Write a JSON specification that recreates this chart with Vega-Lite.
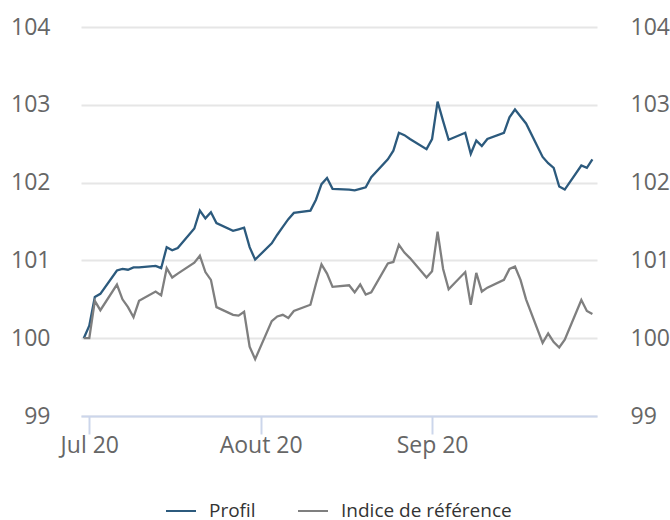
{
  "$schema": "https://vega.github.io/schema/vega-lite/v6.json",
  "autosize": {"type": "none"},
  "padding": {"left": 81, "top": 27, "right": 73, "bottom": 104},
  "width": 516,
  "height": 389,
  "background": "white",
  "config": {
    "view": {"stroke": null},
    "font": "Open Sans"
  },
  "data": {
    "values": [
      {"d": "2020-06-30", "Profil": 100.0, "Indice de référence": 100.0},
      {"d": "2020-07-01", "Profil": 100.16, "Indice de référence": 100.0},
      {"d": "2020-07-02", "Profil": 100.53, "Indice de référence": 100.48},
      {"d": "2020-07-03", "Profil": 100.57, "Indice de référence": 100.36},
      {"d": "2020-07-06", "Profil": 100.87, "Indice de référence": 100.69},
      {"d": "2020-07-07", "Profil": 100.89, "Indice de référence": 100.5},
      {"d": "2020-07-08", "Profil": 100.88, "Indice de référence": 100.4},
      {"d": "2020-07-09", "Profil": 100.91, "Indice de référence": 100.27},
      {"d": "2020-07-10", "Profil": 100.91, "Indice de référence": 100.48},
      {"d": "2020-07-13", "Profil": 100.93, "Indice de référence": 100.6},
      {"d": "2020-07-14", "Profil": 100.9, "Indice de référence": 100.55},
      {"d": "2020-07-15", "Profil": 101.17, "Indice de référence": 100.9},
      {"d": "2020-07-16", "Profil": 101.13, "Indice de référence": 100.78},
      {"d": "2020-07-17", "Profil": 101.16, "Indice de référence": 100.83},
      {"d": "2020-07-20", "Profil": 101.41, "Indice de référence": 100.97},
      {"d": "2020-07-21", "Profil": 101.64, "Indice de référence": 101.06},
      {"d": "2020-07-22", "Profil": 101.54, "Indice de référence": 100.85},
      {"d": "2020-07-23", "Profil": 101.62, "Indice de référence": 100.75},
      {"d": "2020-07-24", "Profil": 101.48, "Indice de référence": 100.4},
      {"d": "2020-07-27", "Profil": 101.38, "Indice de référence": 100.3},
      {"d": "2020-07-28", "Profil": 101.4, "Indice de référence": 100.29},
      {"d": "2020-07-29", "Profil": 101.42, "Indice de référence": 100.34},
      {"d": "2020-07-30", "Profil": 101.17, "Indice de référence": 99.89},
      {"d": "2020-07-31", "Profil": 101.01, "Indice de référence": 99.73},
      {"d": "2020-08-03", "Profil": 101.22, "Indice de référence": 100.22},
      {"d": "2020-08-04", "Profil": 101.33, "Indice de référence": 100.28},
      {"d": "2020-08-05", "Profil": 101.43, "Indice de référence": 100.3},
      {"d": "2020-08-06", "Profil": 101.53, "Indice de référence": 100.26},
      {"d": "2020-08-07", "Profil": 101.61, "Indice de référence": 100.35},
      {"d": "2020-08-10", "Profil": 101.64, "Indice de référence": 100.43},
      {"d": "2020-08-11", "Profil": 101.78, "Indice de référence": 100.7},
      {"d": "2020-08-12", "Profil": 101.98, "Indice de référence": 100.95},
      {"d": "2020-08-13", "Profil": 102.06, "Indice de référence": 100.83},
      {"d": "2020-08-14", "Profil": 101.92, "Indice de référence": 100.66},
      {"d": "2020-08-17", "Profil": 101.91, "Indice de référence": 100.68},
      {"d": "2020-08-18", "Profil": 101.9, "Indice de référence": 100.59},
      {"d": "2020-08-19", "Profil": 101.92, "Indice de référence": 100.69},
      {"d": "2020-08-20", "Profil": 101.94, "Indice de référence": 100.56},
      {"d": "2020-08-21", "Profil": 102.07, "Indice de référence": 100.59},
      {"d": "2020-08-24", "Profil": 102.3, "Indice de référence": 100.96},
      {"d": "2020-08-25", "Profil": 102.41, "Indice de référence": 100.98},
      {"d": "2020-08-26", "Profil": 102.64, "Indice de référence": 101.2},
      {"d": "2020-08-27", "Profil": 102.61, "Indice de référence": 101.1},
      {"d": "2020-08-28", "Profil": 102.56, "Indice de référence": 101.03},
      {"d": "2020-08-31", "Profil": 102.43, "Indice de référence": 100.78},
      {"d": "2020-09-01", "Profil": 102.56, "Indice de référence": 100.86},
      {"d": "2020-09-02", "Profil": 103.04, "Indice de référence": 101.37},
      {"d": "2020-09-03", "Profil": 102.79, "Indice de référence": 100.89},
      {"d": "2020-09-04", "Profil": 102.55, "Indice de référence": 100.63},
      {"d": "2020-09-07", "Profil": 102.64, "Indice de référence": 100.85},
      {"d": "2020-09-08", "Profil": 102.37, "Indice de référence": 100.43},
      {"d": "2020-09-09", "Profil": 102.54, "Indice de référence": 100.84},
      {"d": "2020-09-10", "Profil": 102.47, "Indice de référence": 100.6},
      {"d": "2020-09-11", "Profil": 102.56, "Indice de référence": 100.65},
      {"d": "2020-09-14", "Profil": 102.64, "Indice de référence": 100.75},
      {"d": "2020-09-15", "Profil": 102.84, "Indice de référence": 100.89},
      {"d": "2020-09-16", "Profil": 102.94, "Indice de référence": 100.92},
      {"d": "2020-09-17", "Profil": 102.85, "Indice de référence": 100.75},
      {"d": "2020-09-18", "Profil": 102.76, "Indice de référence": 100.5},
      {"d": "2020-09-21", "Profil": 102.33, "Indice de référence": 99.94},
      {"d": "2020-09-22", "Profil": 102.25, "Indice de référence": 100.06},
      {"d": "2020-09-23", "Profil": 102.19, "Indice de référence": 99.95},
      {"d": "2020-09-24", "Profil": 101.95, "Indice de référence": 99.88},
      {"d": "2020-09-25", "Profil": 101.91, "Indice de référence": 99.98},
      {"d": "2020-09-28", "Profil": 102.22, "Indice de référence": 100.49},
      {"d": "2020-09-29", "Profil": 102.19, "Indice de référence": 100.35},
      {"d": "2020-09-30", "Profil": 102.3, "Indice de référence": 100.31}
    ]
  },
  "transform": [
    {"fold": ["Profil", "Indice de référence"], "as": ["serie", "valeur"]}
  ],
  "encoding": {
    "x": {
      "field": "d",
      "type": "temporal",
      "scale": {
        "type": "utc",
        "domain": [
          {"year": 2020, "month": 6, "date": 29, "hours": 12, "utc": true},
          {"year": 2020, "month": 9, "date": 30, "hours": 20, "utc": true}
        ]
      },
      "axis": {
        "title": null,
        "tickCount": "month",
        "grid": false,
        "domainColor": "#ccd6eb",
        "domainWidth": 2,
        "tickColor": "#ccd6eb",
        "tickWidth": 2,
        "tickSize": 18,
        "labelPadding": 0,
        "labelFontSize": 23,
        "labelColor": "#666666",
        "labelFont": "Open Sans",
        "labelExpr": "['Jan','Fév','Mar','Avr','Mai','Juin','Jul','Aout','Sep','Oct','Nov','Déc'][utcmonth(datum.value)] + ' ' + utcFormat(datum.value, '%y')"
      }
    },
    "y": {
      "field": "valeur",
      "type": "quantitative",
      "scale": {"domain": [99, 104], "nice": false, "zero": false}
    }
  },
  "layer": [
    {
      "mark": {"type": "line", "strokeWidth": 2.3},
      "encoding": {
        "y": {
          "field": "valeur",
          "type": "quantitative",
          "scale": {"domain": [99, 104], "nice": false, "zero": false},
          "axis": {
            "orient": "left",
            "title": null,
            "values": [99, 100, 101, 102, 103, 104],
            "grid": true,
            "gridColor": "#e6e6e6",
            "gridWidth": 2,
            "domain": false,
            "ticks": false,
            "labelPadding": 31,
            "labelFontSize": 23,
            "labelColor": "#666666",
            "labelFont": "Open Sans"
          }
        },
        "color": {
          "field": "serie",
          "type": "nominal",
          "scale": {"domain": ["Profil", "Indice de référence"], "range": ["#2c5a7d", "#7f7f7f"]},
          "legend": {
            "title": null,
            "orient": "none",
            "legendX": 84,
            "legendY": 468,
            "direction": "horizontal",
            "symbolType": "stroke",
            "symbolSize": 900,
            "symbolStrokeWidth": 2,
            "labelFontSize": 19,
            "labelLimit": 400,
            "labelColor": "#333333",
            "labelFont": "Open Sans",
            "labelOffset": 12,
            "columnPadding": 38
          }
        }
      }
    },
    {
      "mark": {"type": "line", "opacity": 0},
      "encoding": {
        "detail": {"field": "serie"},
        "y": {
          "field": "valeur",
          "type": "quantitative",
          "scale": {"domain": [99, 104], "nice": false, "zero": false},
          "axis": {
            "orient": "right",
            "title": null,
            "values": [99, 100, 101, 102, 103, 104],
            "grid": false,
            "domain": false,
            "ticks": false,
            "labelPadding": 33,
            "labelFontSize": 23,
            "labelColor": "#666666",
            "labelFont": "Open Sans"
          }
        }
      }
    }
  ],
  "resolve": {"axis": {"y": "independent"}, "scale": {"y": "shared"}}
}
